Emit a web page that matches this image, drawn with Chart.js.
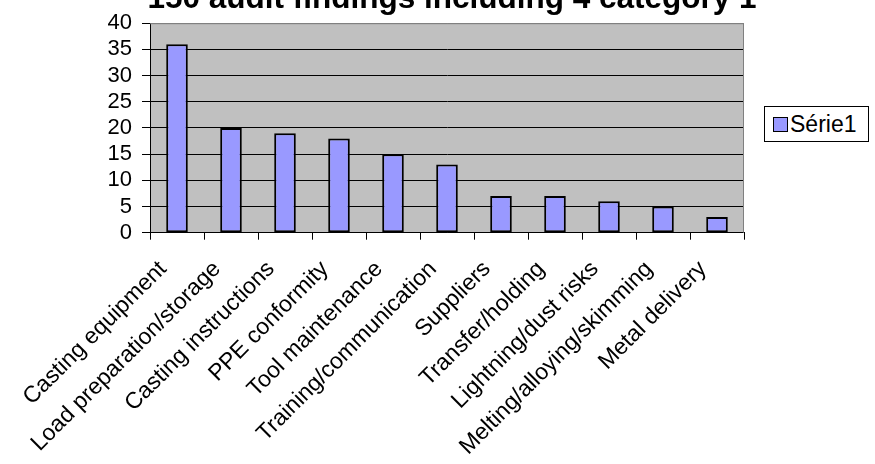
<!DOCTYPE html>
<html>
<head>
<meta charset="utf-8">
<script src="https://cdn.jsdelivr.net/npm/chart.js@4"></script>
<style>
  body { margin: 0; background: #fff; }
  #wrap { position: relative; width: 875px; height: 464px; }
  #legendBox {
    position: absolute; left: 764px; top: 106px; width: 105px; height: 36px;
    box-sizing: border-box; border: 1px solid #000; background: #fff;
    font-family: Arial, "Liberation Sans", sans-serif; font-size: 23px; color: #000;
    display: flex; align-items: center; padding-left: 8px;
  }
  #legendBox .swatch {
    display: inline-block; width: 15px; height: 15px; box-sizing: border-box;
    background: #9999FF; border: 1px solid #000; margin-right: 2px;
  }
</style>
</head>
<body>
<div id="wrap">
  <canvas id="chart" width="875" height="464"></canvas>
  <div id="legendBox"><span class="swatch"></span><span id="legendText"></span></div>
</div>
<script>
// chart data
const titleText = '150 audit findings including 4 category 1';
const seriesName = 'Série1';
const categories = [
    'Casting equipment',
    'Load preparation/storage',
    'Casting instructions',
    'PPE conformity',
    'Tool maintenance',
    'Training/communication',
    'Suppliers',
    'Transfer/holding',
    'Lightning/dust risks',
    'Melting/alloying/skimming',
    'Metal delivery'
];
const findings = [36, 20, 19, 18, 15, 13, 7, 7, 6, 5, 3];
const yMin = 0, yMax = 40, yStep = 5;

const FONT = 'Arial, "Liberation Sans", sans-serif';

document.getElementById('legendText').textContent = seriesName;

// grey plot background, grey frame on top/right, clipped title
const plotFrame = {
    id: 'plotFrame',
    beforeDraw(chart) {
        const { ctx, chartArea: a } = chart;
        ctx.save();
        ctx.fillStyle = '#C0C0C0';
        ctx.fillRect(a.left, a.top, a.right - a.left, a.bottom - a.top);
        ctx.restore();
    },
    beforeDatasetsDraw(chart) {
        const { ctx, chartArea: a } = chart;
        ctx.save();
        ctx.strokeStyle = '#808080';
        ctx.lineWidth = 1;
        ctx.beginPath();
        ctx.moveTo(a.left, a.top + 0.5);
        ctx.lineTo(a.right - 0.5, a.top + 0.5);
        ctx.lineTo(a.right - 0.5, a.bottom);
        ctx.stroke();
        ctx.restore();
    },
    afterDraw(chart) {
        const ctx = chart.ctx;
        ctx.save();
        ctx.font = 'bold 31.5px ' + FONT;
        ctx.fillStyle = '#000';
        ctx.textAlign = 'center';
        ctx.textBaseline = 'alphabetic';
        ctx.fillText(titleText, 452, 8);
        ctx.restore();
    }
};

new Chart(document.getElementById('chart').getContext('2d'), {
    type: 'bar',
    data: {
        labels: categories,
        datasets: [{
            label: seriesName,
            data: findings,
            backgroundColor: '#9999FF',
            borderColor: '#000000',
            borderWidth: 2,
            borderSkipped: false,
            categoryPercentage: 1.0,
            barPercentage: 0.4
        }]
    },
    options: {
        responsive: false,
        animation: false,
        devicePixelRatio: 1,
        layout: { padding: { top: 10.7, right: 131, bottom: 0, left: 0 } },
        plugins: {
            legend: { display: false },
            tooltip: { enabled: false }
        },
        scales: {
            x: {
                afterFit(scale) { scale.height = 231.3; },
                grid: {
                    offset: true,
                    drawOnChartArea: false,
                    drawTicks: true,
                    tickLength: 7,
                    tickColor: '#000'
                },
                border: { color: '#000', width: 1 },
                ticks: {
                    minRotation: 45,
                    maxRotation: 45,
                    autoSkip: false,
                    padding: 16,
                    labelOffset: -14,
                    color: '#000',
                    font: { family: FONT, size: 23 }
                }
            },
            y: {
                min: yMin,
                max: yMax,
                afterFit(scale) { scale.width = 150; },
                grid: {
                    color: ctx => ctx.tick && ctx.tick.value === yMax ? '#808080' : '#000',
                    tickColor: '#000',
                    tickLength: 8,
                    lineWidth: 1
                },
                border: { color: '#000', width: 1 },
                ticks: {
                    stepSize: yStep,
                    autoSkip: false,
                    padding: 10,
                    color: '#000',
                    font: { family: FONT, size: 22 }
                }
            }
        }
    },
    plugins: [plotFrame]
});
</script>
</body>
</html>
